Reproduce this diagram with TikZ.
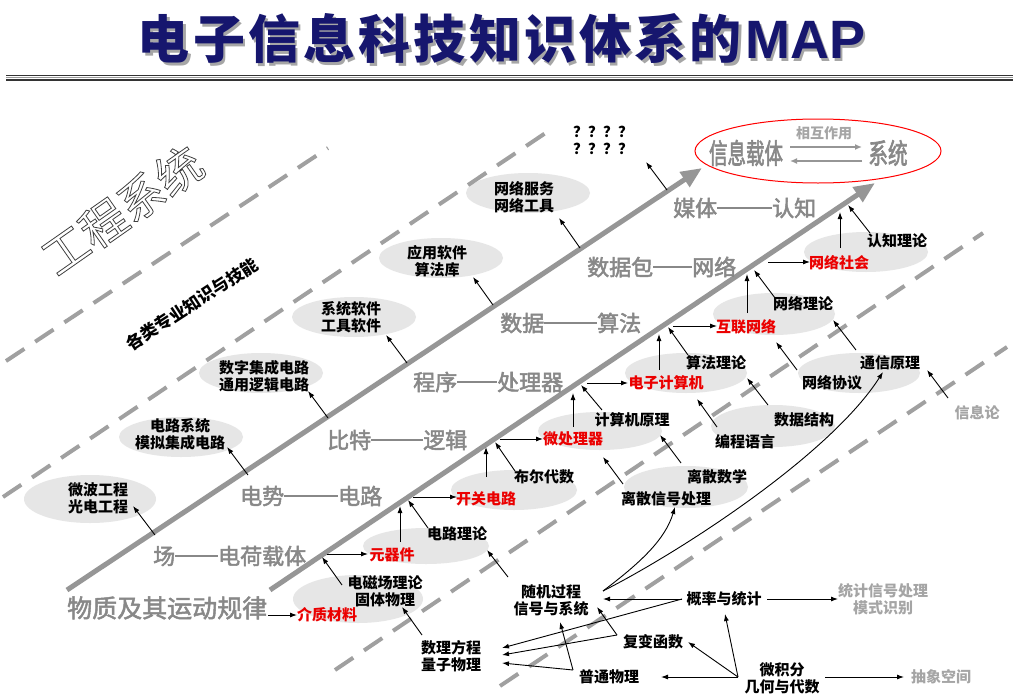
\documentclass[tikz,border=0pt]{standalone}
\usepackage{fontspec}
\setmainfont{Noto Sans CJK SC}
\newfontfamily\arialf{Liberation Sans}
\usetikzlibrary{arrows.meta,shapes.geometric}
\definecolor{navy}{RGB}{22,22,110}
\definecolor{ladder}{RGB}{136,136,136}
\definecolor{ellg}{RGB}{230,230,230}
\definecolor{lgray}{RGB}{165,165,165}
\definecolor{dashg}{RGB}{160,160,160}
\definecolor{thickg}{RGB}{150,150,150}
\definecolor{redt}{RGB}{235,0,0}
\newcommand\fsz[1]{\fontsize{#1}{#1}\selectfont}
\newcommand\dsh[1]{\rule[7.6pt]{#1pt}{1.6pt}}
\newcommand\emb[2]{\special{pdf:literal direct 2 Tr #1 w}#2\special{pdf:literal direct 0 Tr}}
\newcommand\hs{\hspace{3.2pt}}
\newcommand\titletext{{\fsz{52}\bfseries 电\hs 子\hs 信\hs 息\hs 科\hs 技\hs 知\hs 识\hs 体\hs 系\hs 的\hs}{\arialf\bfseries\fsz{54}MAP}}
\tikzset{
  ell/.style={ellipse, fill=ellg, draw=none, inner sep=0},
  lab/.style={inner sep=0, align=center, font=\fontsize{15}{17}\selectfont\bfseries},
  redlab/.style={lab, text=redt},
  graylab/.style={lab, text=lgray},
  ladtext/.style={inner sep=0, anchor=west, text=ladder, font=\fsz{22}},
  arr/.style={-{Latex[length=7pt,width=5pt]}, line width=0.9pt},
  thickarr/.style={thickg, line width=5pt, -{Triangle[length=21pt,width=17pt]}},
  dashl/.style={dashg, line width=4pt, dash pattern=on 22pt off 13pt},
  grayarr/.style={thickg, line width=1.6pt, -{Latex[length=7pt,width=6pt]}},
}
\begin{document}
\begin{tikzpicture}[x=1pt,y=-1pt]
\useasboundingbox (0,0) rectangle (1026,696);
\fill[white] (0,0) rectangle (1026,696);

% ---------- title ----------
\node[inner sep=0, text=black!35] (titlesh) at (504,41.5) {\titletext};
\node[inner sep=0, text=navy] (title) at (501.5,39) {\titletext};
\coordinate (hla) at (6,75.5);  \coordinate (hlb) at (1013,75.5);
\coordinate (hma) at (6,77.6);  \coordinate (hmb) at (1013,77.6);
\coordinate (hna) at (6,79.8);  \coordinate (hnb) at (1013,79.8);
\draw[black!80, line width=1.5pt] (hla) -- (hlb);
\draw[black!40, line width=0.8pt] (hma) -- (hmb);
\draw[black!80, line width=1.5pt] (hna) -- (hnb);

% ---------- ellipses ----------
\node[ell, minimum width=132pt, minimum height=48pt] (e1) at (90,499) {};
\node[ell, minimum width=124pt, minimum height=40pt] (e2) at (181,437) {};
\node[ell, minimum width=124pt, minimum height=40pt] (e3) at (261,373) {};
\node[ell, minimum width=124pt, minimum height=40pt] (e4) at (354,317) {};
\node[ell, minimum width=124pt, minimum height=40pt] (e5) at (441,258) {};
\node[ell, minimum width=124pt, minimum height=40pt] (e6) at (528,193) {};
\node[ell, minimum width=130pt, minimum height=48pt] (e7) at (358,599) {};
\node[ell, minimum width=126pt, minimum height=36pt] (e8) at (426,546) {};
\node[ell, minimum width=126pt, minimum height=40pt] (e9) at (514,490) {};
\node[ell, minimum width=124pt, minimum height=38pt] (e10) at (600,431) {};
\node[ell, minimum width=122pt, minimum height=40pt] (e11) at (686,373) {};
\node[ell, minimum width=122pt, minimum height=42pt] (e12) at (774,314) {};
\node[ell, minimum width=124pt, minimum height=40pt] (e13) at (866,252) {};
\node[ell, minimum width=122pt, minimum height=40pt] (e14) at (859,373) {};
\node[ell, minimum width=124pt, minimum height=42pt] (e15) at (773,426) {};
\node[ell, minimum width=124pt, minimum height=42pt] (e16) at (686,487) {};

% ---------- dashed lines ----------
\coordinate (d1a) at (6,361);   \coordinate (d1b) at (328,148);
\coordinate (d2a) at (3,497);   \coordinate (d2b) at (553,128);
\coordinate (d3a) at (335,670); \coordinate (d3b) at (983,233);
\coordinate (d4a) at (500,686); \coordinate (d4b) at (1007,347);
\draw[dashl] (d1a) -- (d1b);
\draw[dashl] (d2a) -- (d2b);
\draw[dashl] (d3a) -- (d3b);
\draw[dashl] (d4a) -- (d4b);

% ---------- thick arrows ----------
\coordinate (t1a) at (67,590);  \coordinate (t1b) at (702,168);
\coordinate (t2a) at (270,590); \coordinate (t2b) at (875,183);
\draw[thickarr] (t1a) -- (t1b);
\draw[thickarr] (t2a) -- (t2b);

% ---------- big red ellipse ----------
\node[ellipse, draw=red, line width=1pt, minimum width=246pt, minimum height=64pt, inner sep=0] (big) at (818,151) {};
\node[inner sep=0, text=ladder, font=\fsz{28}] (xxzt) at (746,153) {\scalebox{0.66}[1]{\emb{0.7}{信息载体}}};
\node[inner sep=0, text=ladder, font=\fsz{28}] (xitong) at (888,153) {\scalebox{0.70}[1]{\emb{0.7}{系统}}};
\node[inner sep=0, text=lgray, font=\fsz{14}\bfseries] (xhzy) at (824,133) {相互作用};
\coordinate (ia) at (790,147); \coordinate (ib) at (862,147);
\coordinate (ic) at (862,161); \coordinate (id) at (790,161);
\draw[grayarr] (ia) -- (ib);
\draw[grayarr] (ic) -- (id);

% ---------- rotated labels ----------
\node[rotate=35, inner sep=0, text=black!75, font=\fsz{46}] (gcxt) at (122,210)
  {\special{pdf:literal direct 1 Tr 0.8 w}工程系统\special{pdf:literal direct 0 Tr}};
\node[rotate=33, inner sep=0, font=\fsz{17}\bfseries] (glzy) at (192,304) {各类专业知识与技能};

% ---------- ladder texts ----------
\node[ladtext, font=\fsz{25}] (wz) at (67,608) {\emb{0.5}{物质及其运动规律}};
\node[ladtext] (chang) at (153,556) {\emb{0.5}{场}\dsh{43}\emb{0.5}{电荷载体}};
\node[ladtext] (dshi) at (240,496) {\emb{0.5}{电势}\dsh{54}\emb{0.5}{电路}};
\node[ladtext] (bt) at (327,440) {\emb{0.5}{比特}\dsh{52}\emb{0.5}{逻辑}};
\node[ladtext] (cx) at (413,382) {\emb{0.5}{程序}\dsh{40}\emb{0.5}{处理器}};
\node[ladtext] (sj) at (500,323) {\emb{0.5}{数据}\dsh{53}\emb{0.5}{算法}};
\node[ladtext] (sjb) at (587,267) {\emb{0.5}{数据包}\dsh{39}\emb{0.5}{网络}};
\node[ladtext] (mt) at (673,208) {\emb{0.5}{媒体}\dsh{55}\emb{0.5}{认知}};

% ---------- left column labels ----------
\node[lab] (wb) at (98,498) {微波工程\\光电工程};
\node[lab] (dl) at (180,434) {电路系统\\模拟集成电路};
\node[lab] (sz) at (264,376) {数字集成电路\\通用逻辑电路};
\node[lab] (xt) at (351,317) {系统软件\\工具软件};
\node[lab] (yy) at (437,261) {应用软件\\算法库};
\node[lab] (wl) at (524,197) {网络服务\\网络工具};
\node[lab] (qq) at (603,140) {？？？？\\？？？？};

% ---------- chain labels ----------
\node[redlab] (jz) at (327,615) {介质材料};
\node[lab] (dc) at (385,591) {电磁场理论\\固体物理};
\node[redlab] (yq) at (392,555) {元器件};
\node[lab] (dllt) at (457,534) {电路理论};
\node[redlab] (kg) at (486,499) {开关电路};
\node[lab] (be) at (544,477) {布尔代数};
\node[redlab] (wc) at (573,439) {微处理器};
\node[lab] (jsj) at (632,420) {计算机原理};
\node[redlab] (dz) at (666,383) {电子计算机};
\node[lab] (sf) at (716,363) {算法理论};
\node[redlab] (hl) at (746,327) {互联网络};
\node[lab] (wllt) at (803,304) {网络理论};
\node[redlab] (ws) at (839,263) {网络社会};
\node[lab] (rz) at (897,241) {认知理论};

% ---------- lower right labels ----------
\node[lab] (tx) at (890,363) {通信原理};
\node[lab] (xy) at (832,383) {网络协议};
\node[lab] (sjjg) at (804,420) {数据结构};
\node[lab] (bc) at (745,442) {编程语言};
\node[lab] (lssx) at (717,477) {离散数学};
\node[lab] (lsxh) at (666,499) {离散信号处理};
\node[graylab] (xxl) at (977,413) {信息论};
\node[lab] (sjgc) at (551,600) {随机过程\\信号与系统};
\node[lab] (slfc) at (451,656) {数理方程\\量子物理};
\node[lab] (gl) at (724,599) {概率与统计};
\node[graylab] (tjxh) at (883,599) {统计信号处理\\模式识别};
\node[lab] (fb) at (653,642) {复变函数};
\node[lab] (pt) at (609,677) {普通物理};
\node[lab] (wjf) at (782,678) {微积分\\几何与代数};
\node[graylab] (cxkj) at (941,677) {抽象空间};

% ---------- arrow end points ----------
\coordinate (a1t) at (155,535); \coordinate (a1h) at (133,506);
\coordinate (a2t) at (248,475); \coordinate (a2h) at (227,447);
\coordinate (a3t) at (328,418); \coordinate (a3h) at (308,391);
\coordinate (a4t) at (407,363); \coordinate (a4h) at (386,335);
\coordinate (a5t) at (493,305); \coordinate (a5h) at (473,277);
\coordinate (a6t) at (580,248); \coordinate (a6h) at (559,218);
\coordinate (a7t) at (667,190); \coordinate (a7h) at (646,162);

\coordinate (b1t) at (268,615); \coordinate (b1h) at (297,615);
\coordinate (b2t) at (342,585); \coordinate (b2h) at (322,557);
\coordinate (b3t) at (327,554); \coordinate (b3h) at (368,554);
\coordinate (b4t) at (400,542); \coordinate (b4h) at (400,506);
\coordinate (b5t) at (428,528); \coordinate (b5h) at (408,500);
\coordinate (b6t) at (413,497); \coordinate (b6h) at (457,497);
\coordinate (b7t) at (486,477); \coordinate (b7h) at (486,447);
\coordinate (b8t) at (515,471); \coordinate (b8h) at (495,442);
\coordinate (b9t) at (500,439); \coordinate (b9h) at (543,439);
\coordinate (b10t) at (573,427); \coordinate (b10h) at (573,393);
\coordinate (b11t) at (602,410); \coordinate (b11h) at (581,385);
\coordinate (b12t) at (587,383); \coordinate (b12h) at (628,383);
\coordinate (b13t) at (659,370); \coordinate (b13h) at (659,334);
\coordinate (b14t) at (688,355); \coordinate (b14h) at (668,327);
\coordinate (b15t) at (673,326); \coordinate (b15h) at (717,326);
\coordinate (b16t) at (747,313); \coordinate (b16h) at (747,274);
\coordinate (b17t) at (775,298); \coordinate (b17h) at (754,270);
\coordinate (b18t) at (768,262); \coordinate (b18h) at (810,262);
\coordinate (b19t) at (840,248); \coordinate (b19h) at (840,212);
\coordinate (b20t) at (870,233); \coordinate (b20h) at (848,205);

\coordinate (c1t) at (797,370); \coordinate (c1h) at (776,342);
\coordinate (c2t) at (856,350); \coordinate (c2h) at (833,320);
\coordinate (c3t) at (768,405); \coordinate (c3h) at (747,378);
\coordinate (c4t) at (717,427); \coordinate (c4h) at (697,399);
\coordinate (c5t) at (681,463); \coordinate (c5h) at (660,435);
\coordinate (c6t) at (623,484); \coordinate (c6h) at (603,457);
\coordinate (c7t) at (948,398); \coordinate (c7h) at (927,370);
\coordinate (sjo) at (603,591);
\coordinate (c8h) at (675,507);
\coordinate (c9h) at (883,372);
\coordinate (c10t) at (508,577); \coordinate (c10h) at (487,550);
\coordinate (c11t) at (422,635); \coordinate (c11h) at (402,607);
\coordinate (glw) at (682,599);
\coordinate (c12h) at (603,599);
\coordinate (c13h) at (502,648);
\coordinate (c14t) at (767,599); \coordinate (c14h) at (838,599);
\coordinate (fbw) at (617,635);
\coordinate (c15h) at (597,607);
\coordinate (c16h) at (502,655);
\coordinate (ptw) at (573,670);
\coordinate (c17h) at (560,622);
\coordinate (c18h) at (502,663);
\coordinate (wjo) at (738,677);
\coordinate (c19h) at (725,614);
\coordinate (c20h) at (688,642);
\coordinate (c21h) at (661,677);
\coordinate (c22t) at (825,677); \coordinate (c22h) at (904,677);

% ---------- arrows ----------
\foreach \n in {a1,a2,a3,a4,a5,a6,a7,b1,b2,b3,b4,b5,b6,b7,b8,b9,b10,b11,b12,b13,b14,b15,b16,b17,b18,b19,b20,c1,c2,c3,c4,c5,c6,c7,c10,c11,c14,c22}
  \draw[arr] (\n t) -- (\n h);
\draw[arr] (sjo) .. controls (640,563) and (665,540) .. (c8h);
\draw[arr] (sjo) .. controls (680,552) and (830,455) .. (c9h);
\draw[arr] (glw) -- (c12h);
\draw[arr] (glw) -- (c13h);
\draw[arr] (fbw) -- (c15h);
\draw[arr] (fbw) -- (c16h);
\draw[arr] (ptw) -- (c17h);
\draw[arr] (ptw) -- (c18h);
\draw[arr] (wjo) -- (c19h);
\draw[arr] (wjo) -- (c20h);
\draw[arr] (wjo) -- (c21h);
\end{tikzpicture}
\end{document}
